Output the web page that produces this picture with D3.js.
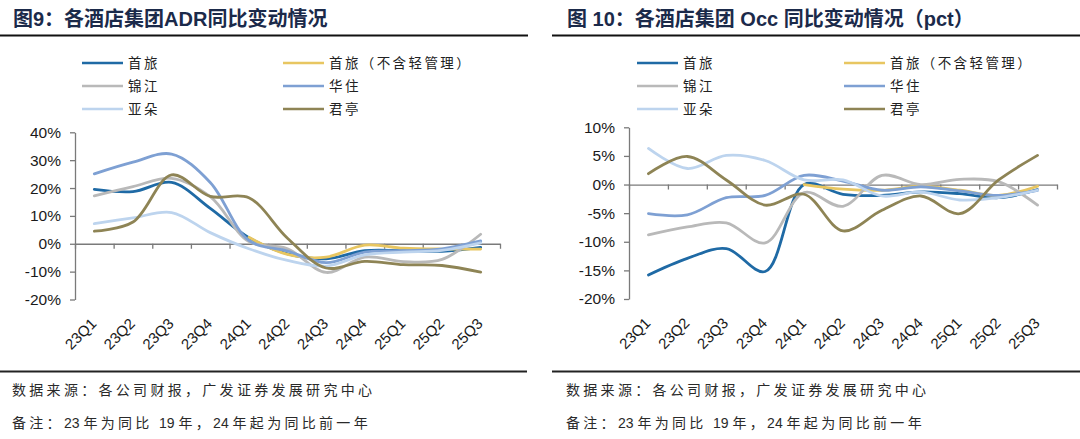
<!DOCTYPE html>
<html><head><meta charset="utf-8">
<script src="https://cdn.jsdelivr.net/npm/d3@7"></script>
<style>
body{margin:0;background:#fff;}
svg{display:block;}
</style></head>
<body>
<svg id="c" width="1080" height="439"></svg>
<script>
// ---------- data ----------
const categories = ["23Q1","23Q2","23Q3","23Q4","24Q1","24Q2","24Q3","24Q4","25Q1","25Q2","25Q3"];
const seriesNames = ["首旅","首旅（不含轻管理）","锦江","华住","亚朵","君亭"];
const seriesColors = ["#1F6AA5","#E8C661","#B9B9B9","#7EA0D3","#BDD4EE","#8E8455"];

// ADR yoy (%)
const adrShouLv        = [19.5, 18.7, 22.0, 12.7, 2.2, -3.6, -5.4, -2.5, -2.5, -2.7, -1.3];
const adrShouLvExLight = [null, null, null, null, 2.3, -3.8, -4.8, -0.5, -1.6, -1.9, -1.9];
const adrJinJiang      = [17.2, 20.5, 23.5, 16.9, 0.8, -1.8, -10.3, -4.8, -6.4, -5.6, 3.4];
const adrHuaZhu        = [25.1, 29.3, 32.2, 22.0, 1.2, -2.6, -6.8, -3.0, -2.5, -1.8, 1.0];
const adrYaDuo         = [7.2, 9.3, 11.2, 4.0, -1.8, -6.0, -8.0, -4.0, -3.0, -2.4, 0.3];
const adrJunTing       = [4.5, 7.8, 24.7, 17.0, 16.5, 2.0, -8.7, -6.3, -7.5, -7.8, -10.2];

// Occ yoy (pct)
const occShouLv        = [-15.8, -12.9, -11.2, -15.2, 0.0, -1.7, -1.9, -1.3, -1.6, -2.3, -0.9];
const occShouLvExLight = [null, null, null, null, 0.0, -0.8, -1.0, -0.3, -1.0, -1.9, -0.3];
const occJinJiang      = [-8.8, -7.4, -6.7, -10.2, -1.4, -3.8, 1.6, 0.0, 0.9, 0.5, -3.6];
const occHuaZhu        = [-5.1, -5.3, -2.3, -1.9, 1.6, 0.6, -1.0, -0.4, -1.1, -1.9, -1.0];
const occYaDuo         = [6.3, 2.8, 5.1, 4.2, 0.8, 0.8, -2.0, -1.3, -2.7, -2.3, -1.0];
const occJunTing       = [1.9, 4.9, 0.8, -3.6, -1.7, -8.1, -4.5, -2.0, -5.1, 0.8, 5.1];

const adrTicks = [40, 30, 20, 10, 0, -10, -20];
const occTicks = [10, 5, 0, -5, -10, -15, -20];

const titles = ["图9：各酒店集团ADR同比变动情况", "图 10：各酒店集团 Occ 同比变动情况（pct）"];
const sourceText = "数据来源：各公司财报，广发证券发展研究中心";
const noteText = "备注：23 年为同比 19 年，24 年起为同比前一年";

// ---------- drawing ----------
const svg = d3.select("#c");
const CJK = "'Noto Sans CJK SC','Liberation Sans',sans-serif";
const ARIAL = "'Liberation Sans',Arial,sans-serif";

function footText(g, x, y, str){
  const t = g.append("text").attr("x", x).attr("y", y).attr("font-family", CJK)
    .attr("font-size", 14).attr("fill", "#2a2a2a");
  str.split(/(\d+ ?)/).filter(s => s.length).forEach(s => {
    const isNum = /^\d/.test(s);
    t.append("tspan").attr("letter-spacing", isNum ? "0px" : "3.3px")
      .attr("font-family", isNum ? ARIAL : CJK).text(s);
  });
}

function panel(cfg){
  const g = svg.append("g");
  // title
  g.append("text").attr("x", cfg.titleX).attr("y", 26)
    .attr("font-family", "'Liberation Sans','Noto Sans CJK SC',sans-serif")
    .attr("font-weight", "bold").attr("font-size", 20).attr("fill", "#1B2A4A")
    .text(cfg.title);
  g.append("line").attr("x1", cfg.lineX1).attr("x2", cfg.lineX2).attr("y1", 35.5).attr("y2", 35.5)
    .attr("stroke", "#111").attr("stroke-width", 2.2);
  // footer
  g.append("line").attr("x1", cfg.lineX1).attr("x2", cfg.footX2).attr("y1", 371.5).attr("y2", 371.5)
    .attr("stroke", "#222").attr("stroke-width", 2.2);
  footText(g, cfg.titleX - 1, 395, sourceText);
  footText(g, cfg.titleX - 1, 428, noteText);

  // legend
  const legCols = [cfg.legX1, cfg.legX2];
  const legRows = [63, 86, 109];
  seriesNames.forEach((n, i) => {
    const lx = legCols[i % 2], ly = legRows[Math.floor(i / 2)];
    g.append("line").attr("x1", lx).attr("x2", lx + 41).attr("y1", ly).attr("y2", ly)
      .attr("stroke", seriesColors[i]).attr("stroke-width", 2.6);
    g.append("text").attr("x", lx + 46).attr("y", ly + 5).attr("font-family", CJK)
      .attr("font-size", 13.5).attr("letter-spacing", "2.4px").attr("fill", "#222").text(n);
  });

  // scales
  const x = d3.scaleBand().domain(categories).range([cfg.x0, cfg.x1]);
  const xb = d3.scaleLinear().domain([0, categories.length]).range([cfg.x0, cfg.x1]);
  const y = d3.scaleLinear().domain([cfg.yMin, cfg.yMax]).range([cfg.yBottom, cfg.yTop]);

  // y axis
  const ya = g.append("g").attr("transform", `translate(${cfg.x0},0)`)
    .call(d3.axisLeft(y).tickValues(cfg.ticks).tickSize(5).tickSizeOuter(0).tickPadding(9)
      .tickFormat(d => d + "%"));
  ya.select(".domain").attr("stroke", "#7a7a7a").attr("stroke-width", 1.3);
  ya.selectAll(".tick line").attr("stroke", "#7a7a7a").attr("stroke-width", 1.3);
  ya.selectAll(".tick text").attr("font-family", ARIAL).attr("font-size", 15.5).attr("fill", "#1a1a1a");

  // x axis at zero
  const xa = g.append("g").attr("transform", `translate(0,${y(0)})`)
    .call(d3.axisBottom(xb).tickValues(d3.range(0, categories.length + 1)).tickSize(5)
      .tickSizeOuter(0).tickFormat(""));
  xa.select(".domain").attr("stroke", "#7a7a7a").attr("stroke-width", 1.3);
  xa.selectAll(".tick line").attr("stroke", "#7a7a7a").attr("stroke-width", 1.3);

  // x labels at bottom
  categories.forEach(c => {
    const px = x(c) + x.bandwidth() / 2 + 3;
    g.append("text").attr("transform", `translate(${px},${cfg.yBottom + 25}) rotate(-45)`)
      .attr("text-anchor", "end").attr("font-family", ARIAL).attr("font-size", 15)
      .attr("fill", "#1a1a1a").text(c);
  });

  // lines
  const line = d3.line()
    .defined(d => d.v !== null)
    .x(d => x(d.c) + x.bandwidth() / 2)
    .y(d => y(d.v))
    .curve(d3.curveCatmullRom.alpha(0.5));
  cfg.series.forEach((vals, i) => {
    const pts = categories.map((c, j) => ({c, v: vals[j]}));
    g.append("path").datum(pts).attr("d", line).attr("fill", "none")
      .attr("stroke", seriesColors[i]).attr("stroke-width", 2.8)
      .attr("stroke-linejoin", "round").attr("stroke-linecap", "round");
  });
}

panel({
  title: titles[0], titleX: 13, lineX1: 0, lineX2: 528, footX2: 527,
  legX1: 82, legX2: 283,
  x0: 75, x1: 500, yTop: 132.3, yBottom: 299.5, yMin: -20, yMax: 40, ticks: adrTicks,
  series: [adrShouLv, adrShouLvExLight, adrJinJiang, adrHuaZhu, adrYaDuo, adrJunTing]
});
panel({
  title: titles[1], titleX: 567, lineX1: 552, lineX2: 1080, footX2: 1080,
  legX1: 637, legX2: 844,
  x0: 629, x1: 1057, yTop: 127.3, yBottom: 299, yMin: -20, yMax: 10, ticks: occTicks,
  series: [occShouLv, occShouLvExLight, occJinJiang, occHuaZhu, occYaDuo, occJunTing]
});
</script>
</body></html>
